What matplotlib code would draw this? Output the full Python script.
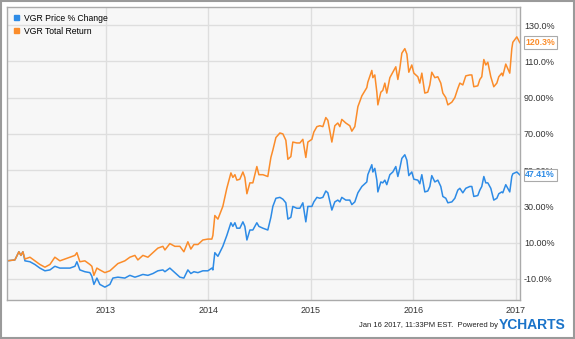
import matplotlib.pyplot as plt
from matplotlib.patches import Patch, Rectangle

plt.rcParams['font.family'] = ['Liberation Sans', 'DejaVu Sans']

# decimal years (Jan 2012 -> Jan 16 2017)
years = [
    2012.034, 2012.112, 2012.151, 2012.171, 2012.190, 2012.210, 2012.259, 2012.307,
    2012.356, 2012.405, 2012.454, 2012.502, 2012.551, 2012.600, 2012.649, 2012.698,
    2012.717, 2012.746, 2012.795, 2012.844, 2012.863, 2012.883, 2012.912, 2012.941,
    2012.990, 2013.039, 2013.068, 2013.117, 2013.185, 2013.234, 2013.283, 2013.312,
    2013.361, 2013.410, 2013.459, 2013.507, 2013.556, 2013.576, 2013.624, 2013.673,
    2013.722, 2013.761, 2013.800, 2013.829, 2013.859, 2013.898, 2013.946, 2013.995,
    2014.034, 2014.044, 2014.063, 2014.093, 2014.141, 2014.180, 2014.220, 2014.239,
    2014.259, 2014.278, 2014.307, 2014.337, 2014.356, 2014.376, 2014.405, 2014.434,
    2014.473, 2014.493, 2014.532, 2014.580, 2014.610, 2014.629, 2014.659, 2014.698,
    2014.727, 2014.756, 2014.776, 2014.805, 2014.824, 2014.863, 2014.893, 2014.922,
    2014.951, 2014.971, 2015.010, 2015.029, 2015.059, 2015.088, 2015.117, 2015.146,
    2015.166, 2015.205, 2015.234, 2015.263, 2015.283, 2015.302, 2015.341, 2015.380,
    2015.400, 2015.429, 2015.459, 2015.498, 2015.546, 2015.556, 2015.595, 2015.605,
    2015.624, 2015.644, 2015.654, 2015.683, 2015.702, 2015.722, 2015.741, 2015.771,
    2015.800, 2015.829, 2015.849, 2015.868, 2015.888, 2015.917, 2015.937, 2015.956,
    2015.985, 2016.005, 2016.044, 2016.063, 2016.083, 2016.112, 2016.141, 2016.161,
    2016.180, 2016.210, 2016.239, 2016.268, 2016.288, 2016.317, 2016.337, 2016.376,
    2016.405, 2016.434, 2016.454, 2016.483, 2016.512, 2016.551, 2016.571, 2016.590,
    2016.629, 2016.649, 2016.668, 2016.688, 2016.707, 2016.727, 2016.756, 2016.785,
    2016.815, 2016.834, 2016.863, 2016.873, 2016.902, 2016.922, 2016.941, 2016.961,
    2016.971, 2017.010, 2017.039,
]

total_return = [
    0, 0.5, 5, 3, 5, 1, 2, 0,
    -2, -3.5, -2, 2, 0, 1, 2, 3,
    4.5, -0.5, 0, -2, -3, -8, -4, -5,
    -6.5, -5.5, -4, -1.5, 0, 2, 3, 0.5,
    3, 2, 4.5, 7, 8, 6, 9.5, 8,
    8, 5, 10.5, 6.5, 9, 9, 11.5, 12,
    12, 14, 25, 23, 30, 40, 48.5, 46,
    47.5, 44.5, 45, 49, 46, 37, 43, 43,
    52, 47.5, 47.5, 46.5, 57, 61, 68, 70.5,
    70, 66.5, 56, 57.5, 65.5, 65, 65, 67,
    57, 65.5, 67, 71, 74, 74.5, 74, 79,
    77.5, 65.5, 74.5, 76, 74, 78, 76, 74.5,
    71.5, 74, 85, 91, 95.5, 98.5, 105, 101,
    102.5, 93, 86, 93, 94, 98, 92.5, 101,
    104, 107, 100, 106, 114.5, 117, 114, 104,
    108, 103.5, 101.5, 98, 103.5, 92.5, 93, 97,
    104, 101, 101.5, 98, 92.5, 90, 86, 87.5,
    90, 95, 98, 97, 102, 102.5, 102.5, 96,
    96.5, 100, 101.5, 111, 108, 109.5, 101.5, 96,
    98, 101.5, 103.5, 102, 108.5, 106, 103.5, 117,
    120.5, 123.5, 120.3,
]

price_change = [
    0, 0.5, 5, 3, 5, 0, -0.5, -2,
    -4, -5.5, -5, -3, -4, -4, -4, -3,
    -0.5, -5, -6, -6.5, -8.5, -13, -9.5, -13,
    -14.5, -13, -9.5, -9, -9.5, -8, -9, -8.5,
    -7.5, -8, -7, -5.5, -5, -6, -4, -6.5,
    -9, -9.5, -5, -7, -6, -6.5, -5.5, -5.5,
    -4, -5, 4.5, 2.5, 8, 14, 21, 19,
    21, 18, 18, 21.5, 19, 11.5, 17, 17,
    21, 19, 18, 17, 24, 30, 34.5, 35,
    34, 32, 23, 24, 30, 29, 29, 32,
    21.5, 30, 30, 32.5, 35, 34.5, 35, 38.5,
    37.5, 28, 32.5, 33.5, 32.5, 35, 33.5, 33.5,
    31, 32.5, 37.5, 41, 43.5, 47.5, 53, 49,
    51, 44.5, 38, 43.5, 43, 44.5, 42, 47.5,
    49, 52, 46.5, 51, 56.5, 58.5, 55.5, 47,
    49, 45, 44.5, 42.5, 47.5, 38, 38.5, 41,
    47, 43.5, 44.5, 41, 35.5, 34.5, 32, 32.5,
    34.5, 39, 40, 37.5, 40, 41, 41, 35.5,
    36, 39, 41, 46.5, 43, 43, 40, 33.5,
    34.5, 37, 38, 37.5, 42, 40, 38, 46.5,
    48, 49, 47.41,
]

year_ticks = [2013, 2014, 2015, 2016, 2017]
pct_ticks = [130, 110, 90, 70, 50, 30, 10, -10]
pct_labels = ['130.0%', '110.0%', '90.00%', '70.00%', '50.00%', '30.00%', '10.00%', '-10.0%']

blue = '#2d8be6'
orange = '#fb8c2a'

fig = plt.figure(figsize=(5.75, 3.39), dpi=100)
fig.patches.append(Rectangle((0.001, 0.002), 0.997, 0.995, transform=fig.transFigure,
                             fill=False, edgecolor='#9a9a9a', linewidth=1.5))

ax = fig.add_axes([0.012, 0.115, 0.892, 0.864])
ax.set_facecolor('#f7f7f7')
ax.plot(years, price_change, color=blue, linewidth=1.1)
ax.plot(years, total_return, color=orange, linewidth=1.1)

ax.set_xlim(years[0], years[-1])
ax.set_ylim(-21.6, 139.9)
ax.set_xticks(year_ticks)
ax.set_yticks(pct_ticks)
ax.set_yticklabels(pct_labels)
ax.yaxis.tick_right()
ax.tick_params(axis='both', length=0, labelsize=6.5, colors='#333333')
ax.tick_params(axis='y', pad=3)
ax.tick_params(axis='x', pad=4)
ax.grid(True, color='#dedede', linewidth=1)
ax.set_axisbelow(True)
for s in ax.spines.values():
    s.set_color('#aaaaaa')
    s.set_linewidth(1)

# end-value tags
for val, col, txt in [(total_return[-1], orange, '120.3%'), (price_change[-1], blue, '47.41%')]:
    ax.annotate(txt, xy=(1.0, val), xycoords=('axes fraction', 'data'),
                xytext=(4, 0), textcoords='offset points', va='center', ha='left',
                fontsize=6.3, fontweight='bold', color=col, zorder=10,
                bbox=dict(boxstyle='square,pad=0.2', fc='white', ec='#aaaaaa', lw=0.8))

handles = [Patch(color=blue), Patch(color=orange)]
ax.legend(handles, ['VGR Price % Change', 'VGR Total Return'], loc='upper left',
          frameon=False, fontsize=6.2, handlelength=0.6, handleheight=0.6,
          handletextpad=0.5, labelspacing=0.45, borderaxespad=0.2,
          bbox_to_anchor=(0.004, 0.995))

fig.text(0.866, 0.04, 'Jan 16 2017, 11:33PM EST.  Powered by', ha='right', va='center',
         fontsize=5.5, color='#222222')
fig.text(0.868, 0.042, 'YCHARTS', ha='left', va='center', fontsize=10,
         fontweight='bold', color='#1a73c9')

fig.savefig('out.png', dpi=100)
